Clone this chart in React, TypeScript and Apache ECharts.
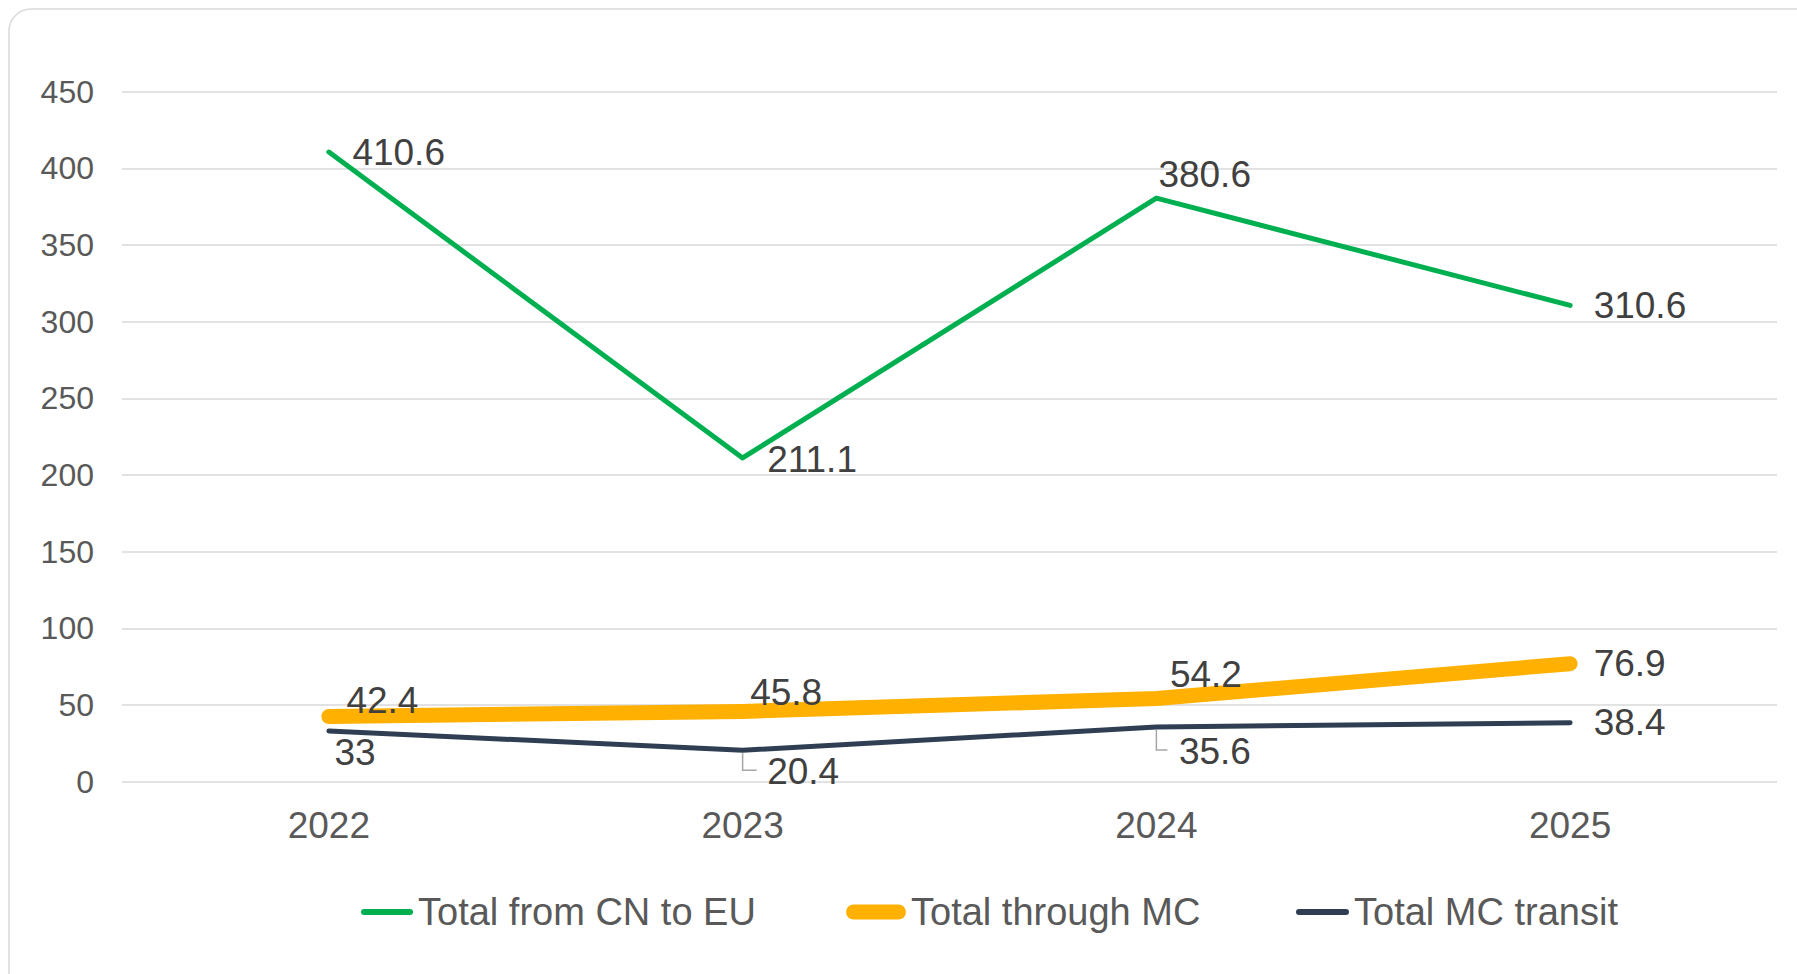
import React, { useEffect, useRef } from "react";
import * as echarts from "echarts";

const years = ["2022", "2023", "2024", "2025"];
const totalCnToEu = [410.6, 211.1, 380.6, 310.6];
const totalThroughMc = [42.4, 45.8, 54.2, 76.9];
const totalMcTransit = [33, 20.4, 35.6, 38.4];
const transitLeaderLine = [false, true, true, false];
const seriesNames = ["Total from CN to EU", "Total through MC", "Total MC transit"];

const GREEN = "#00B050";
const ORANGE = "#FFB000";
const NAVY = "#2F3E52";
const FONT = "'Liberation Sans', Arial, sans-serif";

// label placement: [dx from point to label's left edge, dy from point to label's centre]
const greenOffsets = [[23, 0], [24, 2], [1.5, -24], [23, 0]];
const orangeOffsets = [[17, -16], [7, -19], [13, -24], [23, 0]];
const navyOffsets = [[5, 21], [24, 21], [22, 24], [23, 0]];

function pill(w: number, h: number) {
  const r = h / 2;
  return `path://M${r},0 L${w - r},0 A${r},${r} 0 0 1 ${w - r},${h} L${r},${h} A${r},${r} 0 0 1 ${r},0 Z`;
}

function lineSeries(name: string, values: number[], color: string, width: number, offsets: number[][]) {
  return {
    type: "line",
    name,
    data: values.map((v, i) => ({
      value: v,
      label: { offset: offsets[i] },
    })),
    symbol: "circle",
    symbolSize: 1,
    showSymbol: true,
    itemStyle: { color },
    lineStyle: { color, width, cap: "round", join: "round" },
    label: {
      show: true,
      position: "right",
      distance: 0,
      fontSize: 37,
      fontFamily: FONT,
      color: "#404040",
    },
    emphasis: { disabled: true },
    z: 2,
  };
}

export default function App() {
  const ref = useRef<HTMLDivElement>(null);
  useEffect(() => {
    if (!ref.current) return;
    const chart = echarts.init(ref.current, undefined, { renderer: "svg" });
    const legendBase = {
      top: 888,
      orient: "horizontal",
      textStyle: { fontSize: 38, fontFamily: FONT, color: "#595959" },
      selectedMode: false,
    };
    chart.setOption({
      animation: false,
      backgroundColor: "#ffffff",
      graphic: [
        {
          type: "rect",
          shape: { x: 9, y: 9, width: 1850, height: 990, r: 22 },
          style: { fill: "none", stroke: "#d9d9d9", lineWidth: 1.5 },
          z: -10,
        },
      ],
      grid: { left: 122, right: 20, top: 91.7, bottom: 192.4 },
      xAxis: {
        type: "category",
        data: years,
        boundaryGap: true,
        axisLine: { show: false },
        axisTick: { show: false },
        axisLabel: { fontSize: 37, fontFamily: FONT, color: "#595959", margin: 25 },
      },
      yAxis: {
        type: "value",
        min: 0,
        max: 450,
        interval: 50,
        axisLine: { show: false },
        axisTick: { show: false },
        axisLabel: { fontSize: 32, fontFamily: FONT, color: "#595959", margin: 28 },
        splitLine: { lineStyle: { color: "#d9d9d9", width: 1.5 } },
      },
      legend: [
        {
          ...legendBase,
          left: 356,
          itemWidth: 52,
          itemHeight: 6,
          data: [{ name: seriesNames[0], icon: pill(52, 6) }],
        },
        {
          ...legendBase,
          left: 841,
          itemWidth: 60,
          itemHeight: 15,
          data: [{ name: seriesNames[1], icon: pill(60, 15) }],
        },
        {
          ...legendBase,
          left: 1291,
          itemWidth: 53,
          itemHeight: 6,
          data: [{ name: seriesNames[2], icon: pill(53, 6) }],
        },
      ],
      series: [
        lineSeries(seriesNames[0], totalCnToEu, GREEN, 5, greenOffsets),
        lineSeries(seriesNames[1], totalThroughMc, ORANGE, 15, orangeOffsets),
        lineSeries(seriesNames[2], totalMcTransit, NAVY, 5, navyOffsets),
        {
          type: "custom",
          name: "leader",
          data: totalMcTransit.map((v, i) => [i, v]),
          silent: true,
          z: 1,
          renderItem: (params: any, api: any) => {
            const idx = params.dataIndex;
            if (!transitLeaderLine[idx]) return null;
            const p = api.coord([api.value(0), api.value(1)]);
            const drop = idx === 1 ? 20 : 23;
            const run = idx === 1 ? 14 : 11;
            return {
              type: "polyline",
              shape: {
                points: [
                  [p[0], p[1] + 3],
                  [p[0], p[1] + drop],
                  [p[0] + run, p[1] + drop],
                ],
              },
              style: { stroke: "#a6a6a6", lineWidth: 1.5, fill: "none" },
            };
          },
        },
      ],
    });
    return () => chart.dispose();
  }, []);
  return (
    <div
      ref={ref}
      style={{ position: "fixed", left: 0, top: 0, width: 1797, height: 974, background: "#fff" }}
    />
  );
}
